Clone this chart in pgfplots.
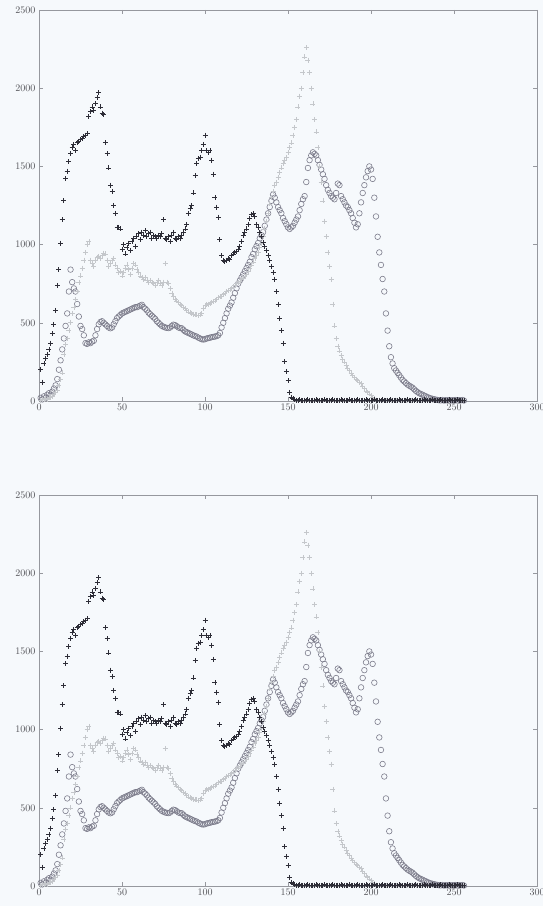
\documentclass[border=0pt]{standalone}
\usepackage{pgfplots}
\usepackage{pgfplotstable}
\pgfplotsset{compat=1.18}
\definecolor{bgc}{RGB}{246,249,252}
\definecolor{axc}{RGB}{150,152,158}
\definecolor{lblc}{RGB}{80,80,85}
\definecolor{acol}{RGB}{45,45,55}
\definecolor{bcol}{RGB}{196,199,203}
\definecolor{ccol}{RGB}{125,125,140}
\pgfplotstableread{
x A B C
1 200 5 20
2 120 10 10
3 240 8 30
4 270 15 20
5 300 12 40
6 330 20 50
7 370 25 40
8 430 30 60
9 490 40 80
10 580 55 100
11 740 70 140
12 840 100 200
13 1010 140 260
14 1160 180 330
15 1280 300 400
16 1420 360 480
17 1470 400 560
18 1530 450 700
19 1580 500 840
20 1620 560 760
21 1640 600 720
22 1600 650 700
23 1650 700 620
24 1660 760 540
25 1670 800 480
26 1680 850 460
27 1690 900 420
28 1700 950 370
29 1710 1000 365
30 1820 1020 375
31 1850 900 370
32 1880 880 380
33 1860 860 385
34 1900 900 420
35 1940 920 460
36 1970 925 490
37 1880 910 505
38 1840 930 510
39 1830 945 500
40 1650 940 490
41 1580 900 480
42 1490 860 470
43 1380 880 465
44 1340 900 470
45 1250 910 490
46 1200 870 510
47 1110 850 530
48 1110 820 540
49 1100 830 550
50 970 800 560
51 1000 820 565
52 940 850 570
53 980 870 575
54 1010 840 580
55 960 810 585
56 1020 850 590
57 1040 880 595
58 990 870 600
59 1050 840 600
60 1070 820 605
61 1030 800 610
62 1080 790 615
63 1060 780 600
64 1090 790 590
65 1050 770 580
66 1070 760 565
67 1080 770 555
68 1040 760 545
69 1060 750 535
70 1050 740 525
71 1040 760 510
72 1060 770 500
73 1050 750 490
74 1070 740 480
75 1160 760 475
76 1040 880 470
77 1030 760 468
78 1050 750 466
79 1020 720 470
80 1060 690 480
81 1080 670 488
82 1040 650 485
83 1030 640 478
84 1050 630 470
85 1040 620 466
86 1060 610 465
87 1080 600 455
88 1100 590 445
89 1130 580 440
90 1200 570 435
91 1230 565 430
92 1250 560 425
93 1330 555 420
94 1440 550 415
95 1520 550 412
96 1550 545 405
97 1560 550 400
98 1600 560 395
99 1640 590 393
100 1700 610 395
101 1600 615 400
102 1590 620 402
103 1600 625 405
104 1540 630 408
105 1450 635 410
106 1300 640 412
107 1240 650 415
108 1175 660 420
109 1030 665 435
110 930 670 470
111 900 680 500
112 890 690 530
113 900 700 560
114 910 705 590
115 905 710 610
116 930 720 630
117 940 730 660
118 950 740 690
119 955 750 720
120 970 755 750
121 985 765 770
122 1020 775 790
123 1060 785 810
124 1080 795 830
125 1100 810 850
126 1130 830 870
127 1170 850 890
128 1190 870 920
129 1200 890 940
130 1180 910 970
131 1130 930 990
132 1110 950 1010
133 1080 980 1040
134 1050 1010 1060
135 1015 1050 1080
136 990 1100 1120
137 960 1150 1160
138 930 1200 1200
139 900 1260 1240
140 860 1300 1280
141 820 1340 1320
142 780 1380 1300
143 700 1400 1270
144 620 1430 1240
145 530 1460 1220
146 450 1490 1200
147 370 1520 1170
148 250 1540 1150
149 190 1560 1130
150 130 1590 1110
151 55 1620 1100
152 25 1650 1110
153 15 1700 1120
154 10 1750 1140
155 6 1800 1160
156 4 1880 1180
157 7 1950 1220
158 5 2000 1260
159 3 2100 1290
160 6 2200 1310
161 4 2260 1400
162 8 2180 1490
163 5 2100 1540
164 3 2000 1570
165 6 1900 1590
166 4 1800 1580
167 7 1720 1570
168 5 1620 1540
169 3 1500 1510
170 6 1400 1480
171 4 1280 1450
172 8 1150 1420
173 5 1050 1380
174 3 950 1350
175 6 860 1330
176 4 780 1310
177 7 620 1300
178 5 480 1290
179 3 400 1330
180 6 350 1390
181 4 320 1380
182 8 290 1310
183 5 265 1290
184 3 250 1270
185 6 230 1250
186 4 210 1240
187 7 195 1220
188 5 180 1200
189 3 165 1170
190 6 150 1140
191 4 140 1110
192 8 130 1130
193 5 120 1200
194 3 110 1270
195 6 95 1330
196 4 80 1380
197 7 65 1430
198 5 55 1470
199 3 45 1500
200 6 35 1480
201 4 25 1420
202 8 15 1300
203 5 5 1180
204 3 3 1050
205 6 2 950
206 4 3 870
207 7 2 780
208 5 3 700
209 3 2 560
210 6 3 450
211 4 2 350
212 8 3 280
213 5 2 240
214 3 3 210
215 6 2 195
216 4 3 180
217 7 2 165
218 5 3 150
219 3 2 135
220 6 3 125
221 4 2 115
222 8 3 105
223 5 2 98
224 3 3 92
225 6 2 85
226 4 3 75
227 7 2 65
228 5 3 57
229 3 2 50
230 6 3 45
231 4 2 40
232 8 3 35
233 5 2 30
234 3 3 25
235 6 2 20
236 4 3 17
237 7 2 14
238 5 3 11
239 3 2 9
240 6 3 7
241 4 2 5
242 8 3 4
243 5 2 6
244 3 3 3
245 6 2 5
246 4 3 4
247 7 2 6
248 5 3 3
249 3 2 5
250 6 3 4
251 4 2 6
252 8 3 3
253 5 2 5
254 3 3 4
255 6 2 6
256 4 3 3
}\hist
\pgfplotsset{histax/.style={
  scale only axis, width=498pt, height=391pt,
  xmin=0, xmax=300, ymin=0, ymax=2500,
  xtick={0,50,...,300}, ytick={0,500,...,2500},
  tick align=inside, major tick length=4pt,
  axis line style={draw=axc, line width=0.6pt},
  tick style={draw=axc, line width=0.5pt},
  ticklabel style={font=\normalsize, text=lblc},
  /pgf/number format/1000 sep={},
  scaled ticks=false,
  axis background/.style={fill=bgc},
  clip=false
}}
\newcommand{\histplots}{%
  \addplot[only marks, mark=o, mark size=2.8pt, draw=ccol, mark options={line width=0.6pt}] table[x=x,y=C]{\hist};
  \addplot[only marks, mark=+, mark size=2.5pt, draw=bcol, mark options={line width=0.6pt}] table[x=x,y=B]{\hist};
  \addplot[only marks, mark=+, mark size=2.5pt, draw=acol, mark options={line width=0.9pt}] table[x=x,y=A]{\hist};
}
\begin{document}
\begin{tikzpicture}
\fill[bgc] (0,0) rectangle (543pt,906pt);
\path[use as bounding box] (0,0) rectangle (543pt,906pt);
\begin{axis}[histax, at={(39pt,505pt)}, anchor=south west]
\histplots
\end{axis}
\begin{axis}[histax, at={(39pt,20pt)}, anchor=south west]
\histplots
\end{axis}
\end{tikzpicture}
\end{document}
